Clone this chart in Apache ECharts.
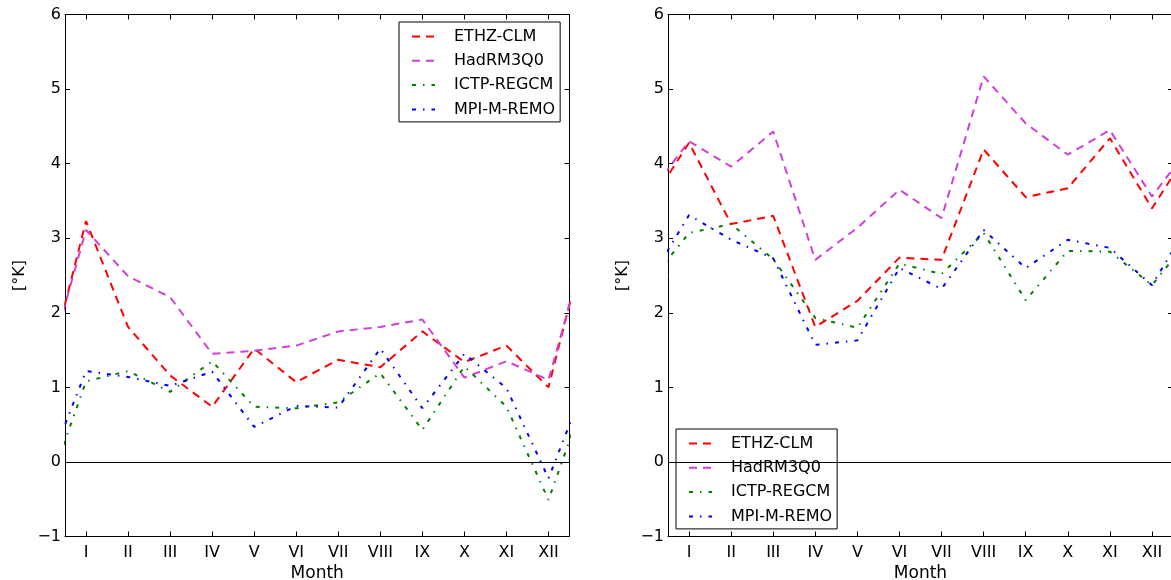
<!DOCTYPE html>
<html><head><meta charset="utf-8">
<script src="https://cdn.jsdelivr.net/npm/echarts@6/dist/echarts.min.js"></script>
<style>html,body{margin:0;padding:0;background:#fff}#c{width:1171px;height:580px}</style>
</head><body><div id="c"></div>
<script>
const monthLabels = ['I','II','III','IV','V','VI','VII','VIII','IX','X','XI','XII'];
const monthTicks = [1,2,3,4,5,6,7,8,9,10,11,12];
const yTicks = [-1,0,1,2,3,4,5,6];
const seriesNames = ['ETHZ-CLM','HadRM3Q0','ICTP-REGCM','MPI-M-REMO'];
// left panel
const leftETHZ = [3.23,1.81,1.16,0.74,1.52,1.07,1.37,1.27,1.75,1.34,1.56,1.00];
const leftHad  = [3.11,2.49,2.21,1.45,1.49,1.56,1.75,1.81,1.91,1.13,1.35,1.10];
const leftICTP = [1.08,1.22,0.94,1.35,0.74,0.72,0.80,1.19,0.43,1.28,0.74,-0.51];
const leftMPI  = [1.22,1.14,1.02,1.21,0.47,0.75,0.73,1.52,0.72,1.45,0.99,-0.22];
// right panel
const rightETHZ = [4.28,3.19,3.30,1.81,2.16,2.74,2.71,4.19,3.55,3.67,4.34,3.40];
const rightHad  = [4.30,3.96,4.43,2.71,3.14,3.65,3.27,5.17,4.54,4.12,4.45,3.56];
const rightICTP = [3.07,3.19,2.72,1.93,1.80,2.66,2.52,3.07,2.17,2.83,2.82,2.37];
const rightMPI  = [3.31,2.98,2.73,1.57,1.63,2.60,2.32,3.11,2.60,2.98,2.87,2.37];

const colors = ['#ff0000','#d040d8','#008000','#0000ff'];
const dashes = [[8,6],[8,6],[4,7,1.5,7],[4,7,1.5,7]];
const FONT = 'DejaVu Sans';

// cyclic: prepend December at x=0 and append January at x=13
function cyc(vals){
  const d = [[0, vals[11]]];
  vals.forEach((v,i)=>d.push([monthTicks[i], v]));
  d.push([13, vals[0]]);
  return d;
}

function xAxes(gi){
  return [{
    gridIndex: gi, type:'value', min:0.5, max:12.5, position:'bottom',
    name:'Month', nameLocation:'middle', nameGap:27,
    nameTextStyle:{fontFamily:FONT, fontSize:17, color:'#000'},
    axisLine:{show:true, onZero:false, lineStyle:{color:'#000', width:1}},
    axisTick:{show:true, inside:true, length:5, customValues:monthTicks, lineStyle:{color:'#000'}},
    axisLabel:{show:true, margin:8, customValues:monthTicks, fontFamily:FONT, fontSize:16, color:'#000',
      formatter:v=>monthLabels[Math.round(v)-1]},
    splitLine:{show:false}
  },{
    gridIndex: gi, type:'value', min:0.5, max:12.5, position:'top',
    axisLine:{show:true, onZero:false, lineStyle:{color:'#000', width:1}},
    axisTick:{show:true, inside:true, length:5, customValues:monthTicks, lineStyle:{color:'#000'}},
    axisLabel:{show:false}, splitLine:{show:false}
  }];
}
function yAxes(gi){
  return [{
    gridIndex: gi, type:'value', min:-1, max:6, interval:1, position:'left',
    name:'[°K]', nameLocation:'middle', nameGap:37, nameRotate:90,
    nameTextStyle:{fontFamily:FONT, fontSize:16, color:'#000'},
    axisLine:{show:true, onZero:false, lineStyle:{color:'#000', width:1}},
    axisTick:{show:true, inside:true, length:5, lineStyle:{color:'#000'}},
    axisLabel:{show:true, margin:4, fontFamily:FONT, fontSize:16, color:'#000',
      formatter:v=> v<0 ? '\u2212'+(-v) : String(v)},
    splitLine:{show:false}
  },{
    gridIndex: gi, type:'value', min:-1, max:6, interval:1, position:'right',
    axisLine:{show:true, onZero:false, lineStyle:{color:'#000', width:1}},
    axisTick:{show:true, inside:true, length:5, lineStyle:{color:'#000'}},
    axisLabel:{show:false}, splitLine:{show:false}
  }];
}

const panels = [
  [leftETHZ, leftHad, leftICTP, leftMPI],
  [rightETHZ, rightHad, rightICTP, rightMPI]
];
const series = [];
panels.forEach((vals, gi)=>{
  vals.forEach((arr, si)=>{
    const s = {
      type:'line', name:seriesNames[si], data:cyc(arr),
      xAxisIndex: gi*2, yAxisIndex: gi*2,
      symbol:'none', clip:true, z: 3,
      lineStyle:{color:colors[si], width:2, type:dashes[si]},
      itemStyle:{color:colors[si]}
    };
    if (si===0){
      s.markLine = {silent:true, symbol:'none', label:{show:false}, animation:false,
        lineStyle:{color:'#000', width:1.2, type:'solid'}, data:[{yAxis:0}]};
    }
    series.push(s);
  });
});

function legend(left, top){
  return {
    left, top, orient:'vertical', data:seriesNames, selectedMode:false,
    backgroundColor:'#fff', borderColor:'#000', borderWidth:1, borderRadius:0,
    padding:[6.5,5,4.5,12], itemWidth:23, itemHeight:14, itemGap:8.3,
    itemStyle:{opacity:0, borderWidth:0},
    lineStyle:{opacity:1},
    textStyle:{fontFamily:FONT, fontSize:16, color:'#000', lineHeight:16, padding:[0,0,0,14]}
  };
}

const chart = echarts.init(document.getElementById('c'), null, {renderer:'canvas'});
chart.setOption({
  animation:false,
  backgroundColor:'#fff',
  grid:[
    {left:65, top:14.5, width:504.5, height:522, outerBoundsMode:'none', containLabel:false},
    {left:668, top:14.5, width:505, height:522, outerBoundsMode:'none', containLabel:false}
  ],
  xAxis:[...xAxes(0), ...xAxes(1)],
  yAxis:[...yAxes(0), ...yAxes(1)],
  legend:[legend(399,22), legend(676,429)],
  series
});
</script></body></html>
